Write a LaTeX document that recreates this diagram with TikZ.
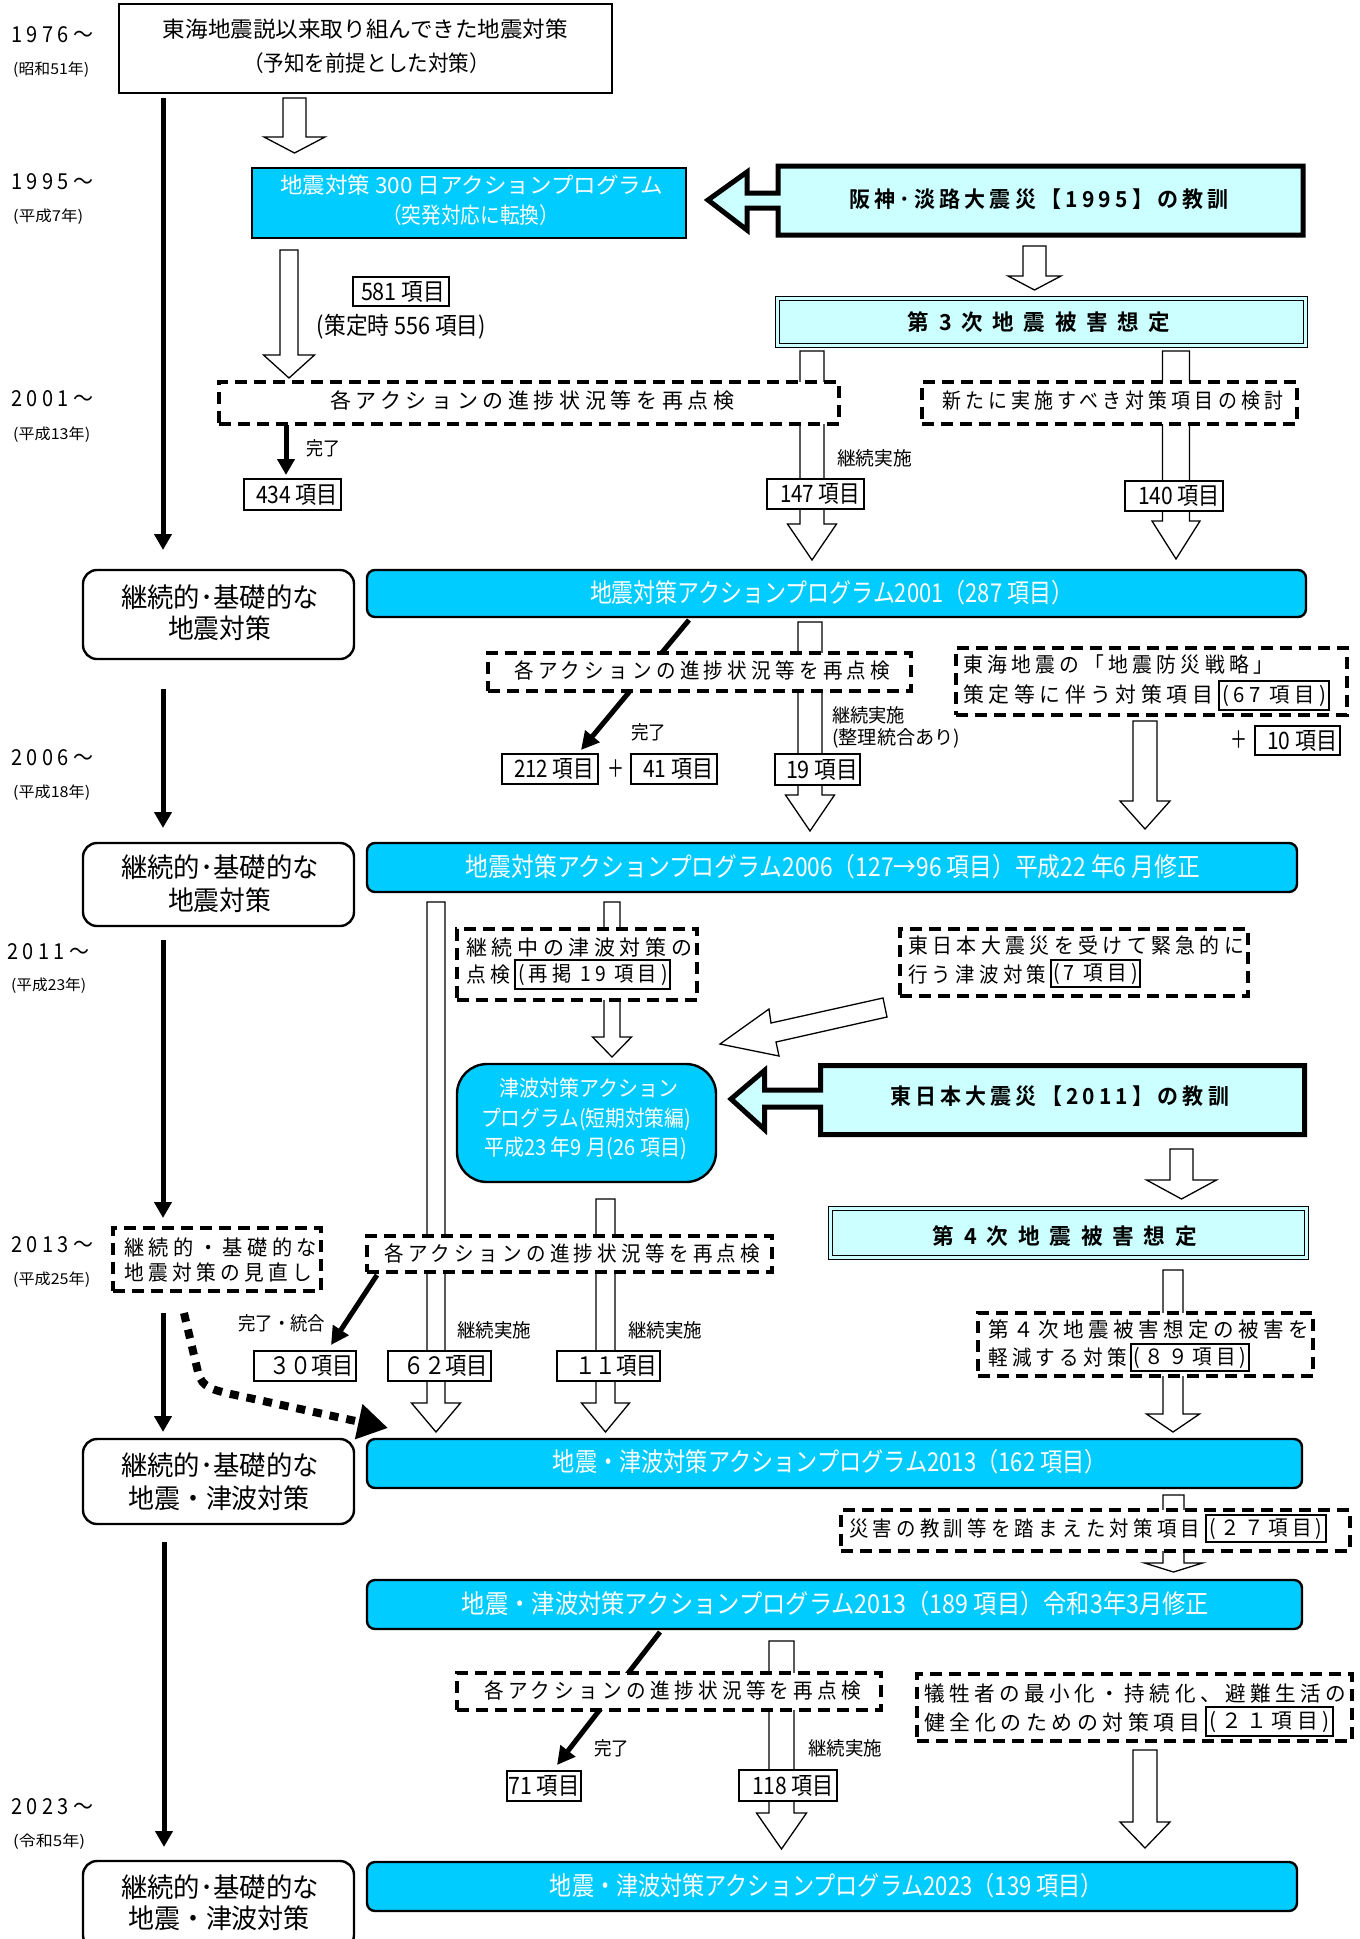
\documentclass[tikz,border=0pt]{standalone}
\usepackage{fontspec}
\usepackage{graphicx}
\usetikzlibrary{arrows.meta}
\newfontfamily\jp{Noto Sans CJK JP}
\newfontfamily\jpsp[LetterSpace=22]{Noto Sans CJK JP}
\newfontfamily\jpbsp[LetterSpace=20]{Noto Sans CJK JP Bold}
\newfontfamily\jpbw[LetterSpace=45]{Noto Sans CJK JP Bold}
\definecolor{cyanB}{HTML}{00CCFF}
\definecolor{lcyan}{HTML}{CCFFFF}
\newcommand\fw[2]{\resizebox{#1pt}{\height}{#2}}
\newcount\lblc
\newcommand\Tx[5][center]{\global\advance\lblc by 1 \node[anchor=#1,inner sep=0pt] (L\the\lblc) at (#2,#3) {\fw{#4}{#5}};}
\newcommand\bx[6]{\node[#1, minimum width=#5pt, minimum height=#6pt] (#2) at (#3,#4) {};}
% hollow arrow: x, ytop, ytip, shaft half, head half, head length
\newcommand\harr[6]{\draw[hol] ({#1-#4},#2) -- ({#1-#4},{#3-#6}) -- ({#1-#5},{#3-#6}) -- (#1,#3) -- ({#1+#5},{#3-#6}) -- ({#1+#4},{#3-#6}) -- ({#1+#4},#2) -- cycle;}
\newcommand\fN{\jp\fontsize{22}{22}\selectfont}
\newcommand\fW{\color{white}\jp\fontsize{26}{26}\selectfont}
\newcommand\fWs{\color{white}\jp\fontsize{22}{22}\selectfont}
\newcommand\fR{\jp\fontsize{27}{27}\selectfont}
\newcommand\fS{\jpsp\fontsize{21}{21}\selectfont}
\newcommand\fI{\jp\fontsize{24}{24}\selectfont}
\newcommand\fL{\jp\fontsize{19}{19}\selectfont}
\newcommand\fY{\jpsp\fontsize{22}{22}\selectfont}
\newcommand\fy{\jp\fontsize{15}{15}\selectfont}
\newcommand\fB{\jpbsp\fontsize{22}{22}\selectfont}
\newcommand\fBw{\jpbw\fontsize{22}{22}\selectfont}
\begin{document}
\begin{tikzpicture}[x=1pt,y=-1pt,
  hol/.style={draw=black, fill=white, line width=1.3pt, line join=miter},
  blk/.style={line width=5pt, -{Triangle[length=16pt,width=17pt]}},
  plain/.style={draw, fill=white, line width=2.4pt, inner sep=0pt},
  dbox/.style={draw, fill=white, line width=3.2pt, dash pattern=on 12pt off 7pt, inner sep=0pt},
  ibox/.style={draw, fill=white, line width=1.2pt, inner sep=0pt},
  cboxs/.style={draw, fill=cyanB, line width=2pt, inner sep=0pt},
  cbox/.style={draw, fill=cyanB, line width=2.4pt, rounded corners=8pt, inner sep=0pt},
  cboxr/.style={draw, fill=cyanB, line width=2.4pt, rounded corners=30pt, inner sep=0pt},
  rbox/.style={draw, fill=white, line width=2.4pt, rounded corners=14pt, inner sep=0pt},
  dblbox/.style={draw, fill=lcyan, double=lcyan, double distance=3pt, line width=1.2pt, inner sep=0pt},
  bigarr/.style={draw, fill=lcyan, line width=5pt, line join=miter}
]
\useasboundingbox (0,0) rectangle (1360,1939);
\fill[white] (0,0) rectangle (1360,1939);
\clip (0,0) rectangle (1360,1939);

% ---------- hollow arrows ----------
\harr{294.5}{98}{153}{11.5}{30.5}{16}
\harr{289}{250}{378}{9}{25.5}{23}
\harr{1034.5}{246}{290}{11.5}{26.5}{14}
\harr{812}{351}{560}{12}{24.5}{36}
\harr{1176}{351}{559}{13.5}{24}{38}
\harr{810}{622}{831}{12}{24.5}{36}
\harr{1145}{721}{829}{12}{25}{28}
\harr{436}{902}{1432}{9}{24.5}{29}
\harr{612}{902}{1057}{8}{19.5}{20}
\harr{605.5}{1199}{1432}{9.5}{24}{29}
\harr{1181.5}{1149}{1199}{11.5}{35}{19}
\harr{1173}{1270}{1432}{10}{26.5}{18}
\harr{1173.5}{1495}{1572}{10.5}{29}{9}
\harr{781.5}{1641}{1849}{12.5}{25}{36}
\harr{1145}{1750}{1848}{12}{25}{26}
\draw[hol] (883,998) -- (771,1023) -- (769,1009) -- (720,1044) -- (779,1056) -- (776,1042) -- (887,1017) -- cycle;

% ---------- black arrows ----------
\draw[blk] (163,98) -- (163,550);
\draw[blk] (163,689) -- (163,828);
\draw[blk] (163,940) -- (163,1218);
\draw[blk] (163,1313) -- (163,1432);
\draw[blk] (164,1542) -- (164,1847);
\draw[blk] (286,425) -- (286,475);
\draw[line width=5pt, -{Triangle[length=18pt,width=18pt]}] (689,620) -- (581,750);
\draw[line width=5pt, -{Triangle[length=18pt,width=18pt]}] (377,1275) -- (331,1345);
\draw[line width=5pt, -{Triangle[length=18pt,width=18pt]}] (660,1632) -- (557,1765);
\draw[line width=8pt, dash pattern=on 9pt off 8pt, -{Triangle[length=30pt,width=34pt]}] (184,1313) -- (198,1372) .. controls (202,1388) and (212,1390) .. (240,1396) -- (388,1428);

% ---------- dashed boxes ----------
\bx{dbox}{d1}{529}{403}{620}{42}
\bx{dbox}{d2}{1109.5}{403}{375}{42}
\bx{dbox}{d3}{699.5}{672}{423}{38}
\bx{dbox}{d4}{1151.5}{681.5}{391}{67}
\bx{dbox}{d5}{577}{964.5}{240}{71}
\bx{dbox}{d6}{1074}{962.5}{348}{67}
\bx{dbox}{d7}{217}{1259.5}{208}{63}
\bx{dbox}{d8}{569.5}{1254}{405}{36}
\bx{dbox}{d9}{1145.5}{1344.5}{335}{63}
\bx{dbox}{d10}{1095.5}{1530.5}{509}{41}
\bx{dbox}{d11}{669}{1691.5}{424}{37}
\bx{dbox}{d12}{1134.5}{1707.5}{435}{67}
% inner boxes
\bx{ibox}{d4i}{1274}{695.5}{110}{29}
\bx{ibox}{d5i}{592.5}{974.5}{155}{29}
\bx{ibox}{d6i}{1095.5}{973.5}{89}{27}
\bx{ibox}{d9i}{1190}{1357.5}{118}{27}
\bx{ibox}{d10i}{1266}{1528.5}{120}{27}
\bx{ibox}{d12i}{1269.5}{1721.5}{127}{29}

% ---------- item boxes ----------
\bx{ibox}{i1}{401}{291.5}{96}{29}
\bx{ibox}{i2}{292.5}{494.5}{97}{31}
\bx{ibox}{i3}{815.5}{494}{97}{30}
\bx{ibox}{i4}{1174}{496}{98}{30}
\bx{ibox}{i5}{550}{769}{96}{30}
\bx{ibox}{i6}{674}{769}{86}{30}
\bx{ibox}{i7}{817.5}{769.5}{85}{31}
\bx{ibox}{i8}{1297.5}{740.5}{85}{29}
\bx{ibox}{i9}{305}{1366}{102}{30}
\bx{ibox}{i10}{439.5}{1366}{103}{30}
\bx{ibox}{i11}{608.5}{1366}{103}{30}
\bx{ibox}{i12}{544}{1786}{74}{30}
\bx{ibox}{i13}{788}{1785.5}{98}{31}

% ---------- main boxes ----------
\bx{plain}{top}{365.5}{48.5}{493}{89}
\bx{cboxs}{c1}{469}{203}{434}{70}
\bx{cbox}{c2}{836.5}{593.5}{939}{47}
\bx{cbox}{c3}{832}{867.5}{930}{49}
\bx{cboxr}{c4}{586.5}{1123}{259}{118}
\bx{cbox}{c5}{834.5}{1463.5}{935}{49}
\bx{cbox}{c6}{834.5}{1604.5}{935}{49}
\bx{cbox}{c7}{832}{1886.5}{930}{49}
\bx{rbox}{r1}{218.5}{614.5}{271}{89}
\bx{rbox}{r2}{218.5}{884.5}{271}{83}
\bx{rbox}{r3}{218.5}{1481.5}{271}{85}
\bx{rbox}{r4}{218.5}{1905}{271}{88}
\bx{dblbox}{s3}{1041.5}{322}{527.6}{46.6}
\bx{dblbox}{s4}{1068.5}{1233}{475.6}{48.6}
\draw[bigarr] (1303,166) -- (778,166) -- (778,193) -- (747,193) -- (747,172) -- (708,200) -- (747,230) -- (747,208) -- (778,208) -- (778,235) -- (1303,235) -- cycle;
\draw[bigarr] (1304.5,1065.5) -- (820.5,1065.5) -- (820.5,1090) -- (764.5,1090) -- (764.5,1070.5) -- (731,1099) -- (764.5,1129.5) -- (764.5,1107) -- (820.5,1107) -- (820.5,1134.5) -- (1304.5,1134.5) -- cycle;

% ---------- years ----------
\Tx[west]{11}{35}{82}{\fY 1976～}
\Tx[west]{13}{70}{76}{\fy (昭和51年)}
\Tx[west]{11}{182}{82}{\fY 1995～}
\Tx[west]{13}{217}{70}{\fy (平成7年)}
\Tx[west]{11}{399}{82}{\fY 2001～}
\Tx[west]{13}{435}{77}{\fy (平成13年)}
\Tx[west]{11}{758}{82}{\fY 2006～}
\Tx[west]{13}{793}{77}{\fy (平成18年)}
\Tx[west]{7}{952}{82}{\fY 2011～}
\Tx[west]{11}{986}{75}{\fy (平成23年)}
\Tx[west]{11}{1245}{82}{\fY 2013～}
\Tx[west]{13}{1280}{77}{\fy (平成25年)}
\Tx[west]{11}{1807}{82}{\fY 2023～}
\Tx[west]{13}{1842}{72}{\fy (令和5年)}

% ---------- texts in main boxes ----------
\Tx{365.5}{29}{405}{\fN 東海地震説以来取り組んできた地震対策}
\Tx{366.5}{63}{247}{\fN （予知を前提とした対策）}
\Tx{471.5}{185}{383}{\fWs 地震対策 300 日アクションプログラム}
\Tx{470.5}{215}{177}{\fWs （突発対応に転換）}
\Tx{1039}{199}{380}{\fB 阪神･淡路大震災【1995】の教訓}
\Tx{1039}{322}{262}{\fBw 第3次地震被害想定}
\Tx{831.5}{593}{483}{\fW 地震対策アクションプログラム2001（287 項目）}
\Tx{833}{867}{734}{\fW 地震対策アクションプログラム2006（127→96 項目）平成22 年6 月修正}
\Tx{588.5}{1088}{179}{\fWs 津波対策アクション}
\Tx{586}{1119}{210}{\fWs プログラム(短期対策編)}
\Tx{585.5}{1148}{203}{\fWs 平成23 年9 月(26 項目)}
\Tx{1059.5}{1096}{339}{\fB 東日本大震災【2011】の教訓}
\Tx{1065}{1236}{264}{\fBw 第4次地震被害想定}
\Tx{830}{1462}{554}{\fW 地震・津波対策アクションプログラム2013（162 項目）}
\Tx{835.5}{1604}{747}{\fW 地震・津波対策アクションプログラム2013（189 項目）令和3年3月修正}
\Tx{826.5}{1886}{553}{\fW 地震・津波対策アクションプログラム2023（139 項目）}
\Tx{220}{597}{198}{\fR 継続的･基礎的な}
\Tx{219.5}{628}{103}{\fR 地震対策}
\Tx{220}{867}{198}{\fR 継続的･基礎的な}
\Tx{219.5}{900}{103}{\fR 地震対策}
\Tx{220}{1465}{198}{\fR 継続的･基礎的な}
\Tx{219}{1498}{182}{\fR 地震・津波対策}
\Tx{220}{1887}{198}{\fR 継続的･基礎的な}
\Tx{219}{1918}{182}{\fR 地震・津波対策}

% ---------- texts in dashed boxes ----------
\Tx[west]{330}{400}{404}{\fS 各アクションの進捗状況等を再点検}
\Tx[west]{942}{401}{341}{\fS 新たに実施すべき対策項目の検討}
\Tx[west]{514}{670}{376}{\fS 各アクションの進捗状況等を再点検}
\Tx[west]{963}{665}{310}{\fS 東海地震の「地震防災戦略」}
\Tx[west]{963}{695}{250}{\fS 策定等に伴う対策項目}
\Tx{1274}{695.5}{104}{\fS (67 項目)}
\Tx[west]{466}{947}{226}{\fS 継続中の津波対策の}
\Tx[west]{466}{975}{44}{\fS 点検}
\Tx{593}{975}{150}{\fS (再掲 19 項目)}
\Tx[west]{908}{946}{336}{\fS 東日本大震災を受けて緊急的に}
\Tx[west]{908}{974}{138}{\fS 行う津波対策}
\Tx{1095.5}{974}{85}{\fS (7 項目)}
\Tx[west]{124}{1247}{193}{\fS 継続的・基礎的な}
\Tx[west]{124}{1272}{188}{\fS 地震対策の見直し}
\Tx[west]{384}{1253}{376}{\fS 各アクションの進捗状況等を再点検}
\Tx[west]{988}{1330}{321}{\fS 第４次地震被害想定の被害を}
\Tx[west]{988}{1357}{139}{\fS 軽減する対策}
\Tx{1190}{1357.5}{113}{\fS (８９項目)}
\Tx[west]{849}{1528}{351}{\fS 災害の教訓等を踏まえた対策項目}
\Tx{1266}{1528.5}{113}{\fS (２７項目)}
\Tx[west]{484}{1690}{377}{\fS 各アクションの進捗状況等を再点検}
\Tx[west]{924}{1693}{422}{\fS 犠牲者の最小化・持続化、避難生活の}
\Tx[west]{924}{1722}{276}{\fS 健全化のための対策項目}
\Tx{1269.5}{1721.5}{120}{\fS (２１項目)}

% ---------- item texts ----------
\Tx{403}{291.5}{84}{\fI 581 項目}
\Tx{297}{494.5}{82}{\fI 434 項目}
\Tx{820}{494}{80}{\fI 147 項目}
\Tx{1179}{496}{82}{\fI 140 項目}
\Tx{554}{769}{80}{\fI 212 項目}
\Tx{678}{769}{70}{\fI 41 項目}
\Tx{822}{769.5}{72}{\fI 19 項目}
\Tx{1302}{740.5}{70}{\fI 10 項目}
\Tx{311}{1366}{84}{\fI ３０項目}
\Tx{445.5}{1366}{85}{\fI ６２項目}
\Tx{616}{1366}{82}{\fI １１項目}
\Tx{544}{1786}{71}{\fI 71 項目}
\Tx{793}{1785.5}{82}{\fI 118 項目}
\Tx{401.5}{327}{169}{\fI (策定時 556 項目)}
\Tx{616}{769}{17}{\fI ＋}
\Tx{1239}{740}{17}{\fI ＋}

% ---------- labels ----------
\Tx[west]{306}{448}{34}{\fL 完了}
\Tx[west]{837}{458}{75}{\fL 継続実施}
\Tx[west]{631}{732}{35}{\fL 完了}
\Tx[west]{832}{715}{73}{\fL 継続実施}
\Tx[west]{832}{738}{128}{\fL (整理統合あり)}
\Tx[west]{238}{1323}{87}{\fL 完了・統合}
\Tx[west]{457}{1330}{74}{\fL 継続実施}
\Tx[west]{628}{1330}{74}{\fL 継続実施}
\Tx[west]{594}{1748}{35}{\fL 完了}
\Tx[west]{808}{1748}{74}{\fL 継続実施}
\end{tikzpicture}
\end{document}
